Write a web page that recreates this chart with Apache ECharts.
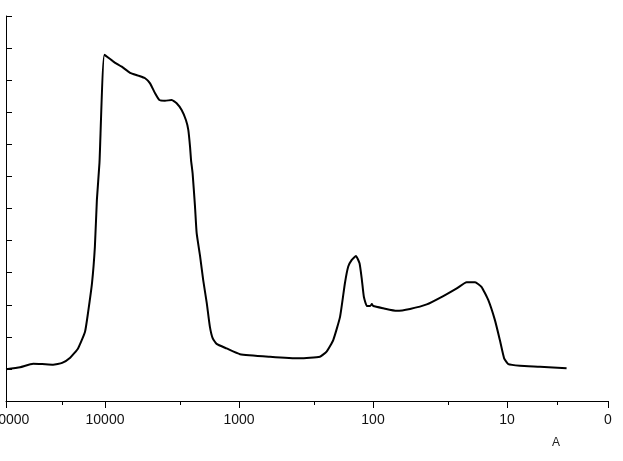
<!DOCTYPE html>
<html>
<head>
<meta charset="utf-8">
<script src="https://cdn.jsdelivr.net/npm/echarts@6.0.0/dist/echarts.min.js"></script>
<style>
  html, body { margin: 0; padding: 0; background: #fff; }
  #chart { width: 623px; height: 461px; }
</style>
</head>
<body>
<div id="chart"></div>
<script>
  // particle size (A) and distribution value
  const sizes = [54800, 43000, 34400, 29500, 24400, 20900, 18200, 15900, 14100, 13400,
    12500, 11900, 11500, 11000, 10100, 8670, 7500, 6500, 5640,
    5020, 4610, 4230, 3930, 3570, 3180, 2920, 2680, 2490, 2390,
    2320, 2280, 2220, 2130, 2070, 1950, 1850, 1740, 1650, 1570,
    1470, 1240, 984, 587, 351, 249, 222, 198, 176, 162,
    153, 144, 134, 126, 121, 117, 111, 105, 102, 99.5,
    83.8, 66.5, 52.9, 39.7, 29.9, 23.7, 20.0, 17.3, 15.5, 13.8,
    12.3, 11.3, 10.5, 9.77, 8.0, 5.67, 3.59]
  const values = [0.99, 1.05, 1.16, 1.15, 1.13, 1.19, 1.35, 1.64, 2.16, 2.74,
    3.68, 4.81, 6.27, 7.42, 10.79, 10.58, 10.42, 10.23, 10.14,
    10.06, 9.90, 9.59, 9.38, 9.36, 9.38, 9.28, 9.07, 8.76, 8.45,
    7.93, 7.51, 7.10, 6.06, 5.23, 4.50, 3.77, 3.05, 2.32, 1.95,
    1.78, 1.64, 1.46, 1.38, 1.33, 1.38, 1.54, 1.90, 2.63, 3.67,
    4.19, 4.40, 4.52, 4.29, 3.77, 3.25, 2.96, 2.96, 3.02, 2.96,
    2.89, 2.81, 2.87, 3.01, 3.27, 3.51, 3.70, 3.70, 3.56, 3.15,
    2.52, 1.90, 1.33, 1.15, 1.10, 1.07, 1.02]

  // x axis is log10(size), drawn reversed; the two end labels sit off the log grid
  const tickLabels = ['100000', '10000', '1000', '100', '10', '0']
  const labelPos = [4.739, 4, 3, 2, 1, 0.246]
  const minorPos = [4.321, 3.44, 2.44, 1.44, 0.627]
  const yTicks = [0, 1, 2, 3, 4, 5, 6, 7, 8, 9, 10, 11, 12]

  const chart = echarts.init(document.getElementById('chart'))
  const points = sizes.map((s, i) => [Math.log10(s), values[i]])

  const baseX = {
    type: 'value',
    position: 'bottom',
    inverse: true,
    min: labelPos[labelPos.length - 1],
    max: labelPos[0],
    splitLine: { show: false }
  }

  chart.setOption({
    animation: false,
    title: {
      text: 'A',
      left: 552,
      top: 437,
      padding: 0,
      textStyle: { fontSize: 12, fontWeight: 'normal', color: '#222', fontFamily: 'Liberation Sans' }
    },
    grid: { left: 6, right: 15, top: 16, bottom: 60, containLabel: false, outerBoundsMode: 'none' },
    xAxis: [
      Object.assign({}, baseX, {
        axisLine: { lineStyle: { color: '#000', width: 1 } },
        axisTick: { customValues: labelPos, length: 7, lineStyle: { color: '#000' } },
        axisLabel: {
          customValues: labelPos,
          margin: 12,
          color: '#111',
          fontSize: 14,
          fontFamily: 'Liberation Sans',
          formatter: function (v) {
            const i = labelPos.findIndex(p => Math.abs(p - v) < 1e-6)
            return i < 0 ? '' : tickLabels[i]
          }
        }
      }),
      Object.assign({}, baseX, {
        axisLine: { show: false },
        axisTick: { customValues: minorPos, length: 4, lineStyle: { color: '#000' } },
        axisLabel: { show: false }
      })
    ],
    yAxis: {
      type: 'value',
      min: 0,
      max: 12,
      splitLine: { show: false },
      axisLine: { show: true, lineStyle: { color: '#000', width: 1 } },
      axisTick: { show: true, inside: true, length: 6, customValues: yTicks, lineStyle: { color: '#000' } },
      axisLabel: { show: false }
    },
    series: [{
      type: 'line',
      xAxisIndex: 0,
      data: points,
      showSymbol: false,
      smooth: 0.15,
      lineStyle: { color: '#000', width: 2, join: 'round' }
    }]
  })
</script>
</body>
</html>
